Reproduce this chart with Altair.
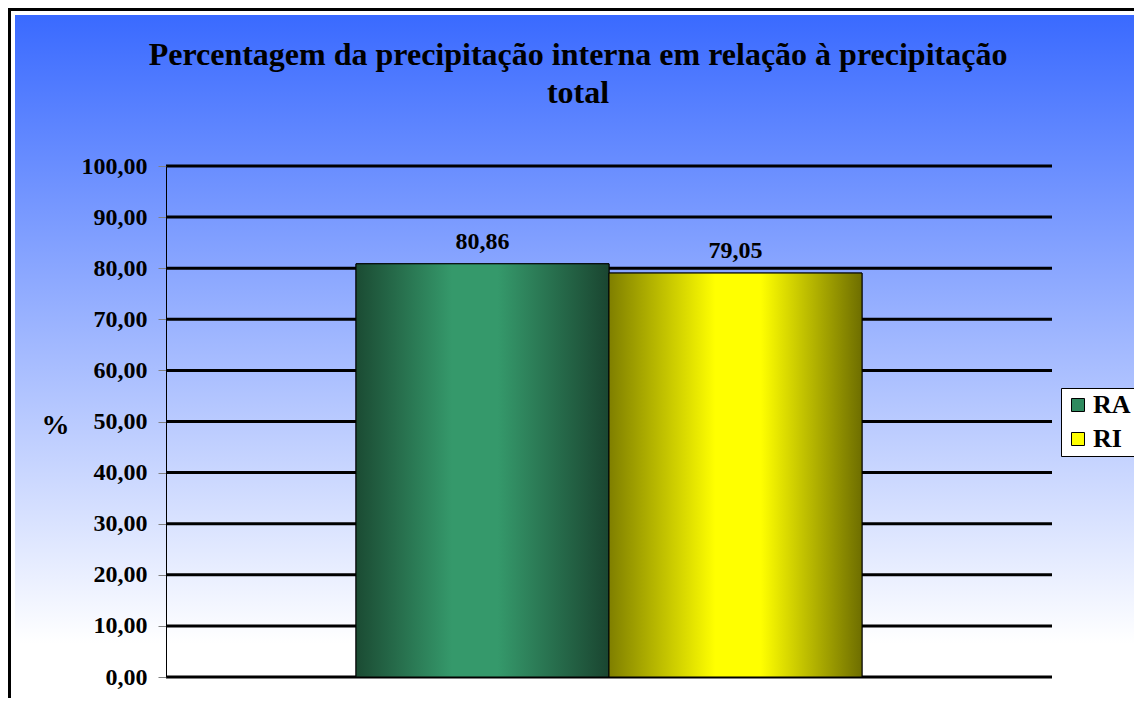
import altair as alt
import pandas as pd

# ---- data ----
series = ["RA", "RI"]
values = [80.86, 79.05]
y_ticks = [0, 10, 20, 30, 40, 50, 60, 70, 80, 90, 100]
title_lines = ["Percentagem da precipitação interna  em relação à precipitação", "total"]
legend_colors = ["#2F8A5E", "#FFFF00"]

df = pd.DataFrame({"series": series, "value": values})
grid_df = pd.DataFrame({"tick": y_ticks})
deco_df = pd.DataFrame({"d": [0]})

FONT = "Liberation Serif"
W, H = 886, 511

def grad_h(stops):
    return {"gradient": "linear", "x1": 0, "x2": 1, "y1": 0, "y2": 0,
            "stops": [{"offset": o, "color": c} for o, c in stops]}

ra_grad = grad_h([(0, "#1B4B33"), (0.38, "#35996B"), (0.56, "#35996B"), (1, "#1A4530")])
ri_grad = grad_h([(0, "#7F7F00"), (0.42, "#FFFF00"), (0.6, "#FFFF00"), (1, "#6E6E00")])
bg_grad = {"gradient": "linear", "x1": 0, "x2": 0, "y1": 0, "y2": 1,
           "stops": [{"offset": 0, "color": "#3A6AFF"},
                     {"offset": 0.9, "color": "#FFFFFF"},
                     {"offset": 1, "color": "#FFFFFF"}]}

x_enc = alt.X("series:N", scale=alt.Scale(domain=series, paddingInner=0, paddingOuter=0.751), axis=None)
y_scale = alt.Scale(domain=[0, 100], nice=False, zero=True)
y_axis = alt.Axis(
    values=y_ticks,
    labelExpr="replace(format(datum.value, '.2f'), '.', ',')",
    grid=False, zindex=1,
    labelFont=FONT, labelFontSize=24, labelFontWeight="bold", labelColor="black",
    labelPadding=11, labelBaseline="middle",
    tickColor="#808080", tickSize=8, tickWidth=1,
    domainColor="black", domainWidth=1,
    title="%", titleAngle=0, titleX=-111, titleY=267, titleAlign="center",
    titleBaseline="alphabetic", titleFont=FONT, titleFontSize=28,
    titleFontWeight="bold", titleColor="black",
)

def y_enc(field):
    return alt.Y(f"{field}:Q", scale=y_scale, axis=y_axis)

border = alt.Chart(deco_df).mark_rect(fill="white", stroke="black", strokeWidth=6).encode(
    x=alt.value(-158), x2=alt.value(1000), y=alt.value(-158), y2=alt.value(600)
)
background = alt.Chart(deco_df).mark_rect(fill=bg_grad).encode(
    x=alt.value(-151), x2=alt.value(1000), y=alt.value(-151), y2=alt.value(547)
)
title = alt.Chart(deco_df).mark_text(
    font=FONT, fontSize=32, fontWeight="bold", color="black",
    align="center", baseline="alphabetic", lineHeight=38
).encode(x=alt.value(412), y=alt.value(-101), text=alt.value(title_lines))
grid = alt.Chart(grid_df).mark_rule(color="black", strokeWidth=3).encode(
    y=y_enc("tick"), x=alt.value(0), x2=alt.value(W)
)
legend_bars = alt.Chart(df).mark_bar(stroke="black", strokeWidth=1).encode(
    x=x_enc, y=y_enc("value"),
    color=alt.Color("series:N", scale=alt.Scale(domain=series, range=legend_colors),
                    legend=alt.Legend(title=None, orient="none", legendX=895, legendY=222,
                                      fillColor="white", strokeColor="black", padding=4,
                                      symbolType="square", symbolSize=169,
                                      symbolStrokeColor="black", symbolStrokeWidth=1,
                                      labelFont=FONT, labelFontSize=26, labelFontWeight="bold",
                                      labelColor="black", rowPadding=8, labelOffset=2,
                                      labelLimit=60)),
)
ra_bar = alt.Chart(df).transform_filter(alt.datum.series == "RA").mark_bar(
    fill=ra_grad, stroke="black", strokeWidth=1).encode(x=x_enc, y=y_enc("value"))
ri_bar = alt.Chart(df).transform_filter(alt.datum.series == "RI").mark_bar(
    fill=ri_grad, stroke="black", strokeWidth=1).encode(x=x_enc, y=y_enc("value"))
labels = alt.Chart(df).transform_calculate(
    label="replace(format(datum.value, '.2f'), '.', ',')"
).mark_text(font=FONT, fontSize=24, fontWeight="bold", color="black",
            baseline="alphabetic", dy=-15).encode(
    x=x_enc, y=y_enc("value"), text="label:N"
)

chart = alt.layer(border, background, title, grid, legend_bars, ra_bar, ri_bar, labels).properties(
    width=W, height=H,
    autosize=alt.AutoSizeParams(type="none"),
    padding={"left": 158, "top": 158, "right": 82, "bottom": 21},
).configure(background="white").configure_view(stroke=None)

chart.save("out.html", embed_options={"renderer": "svg", "actions": False})
